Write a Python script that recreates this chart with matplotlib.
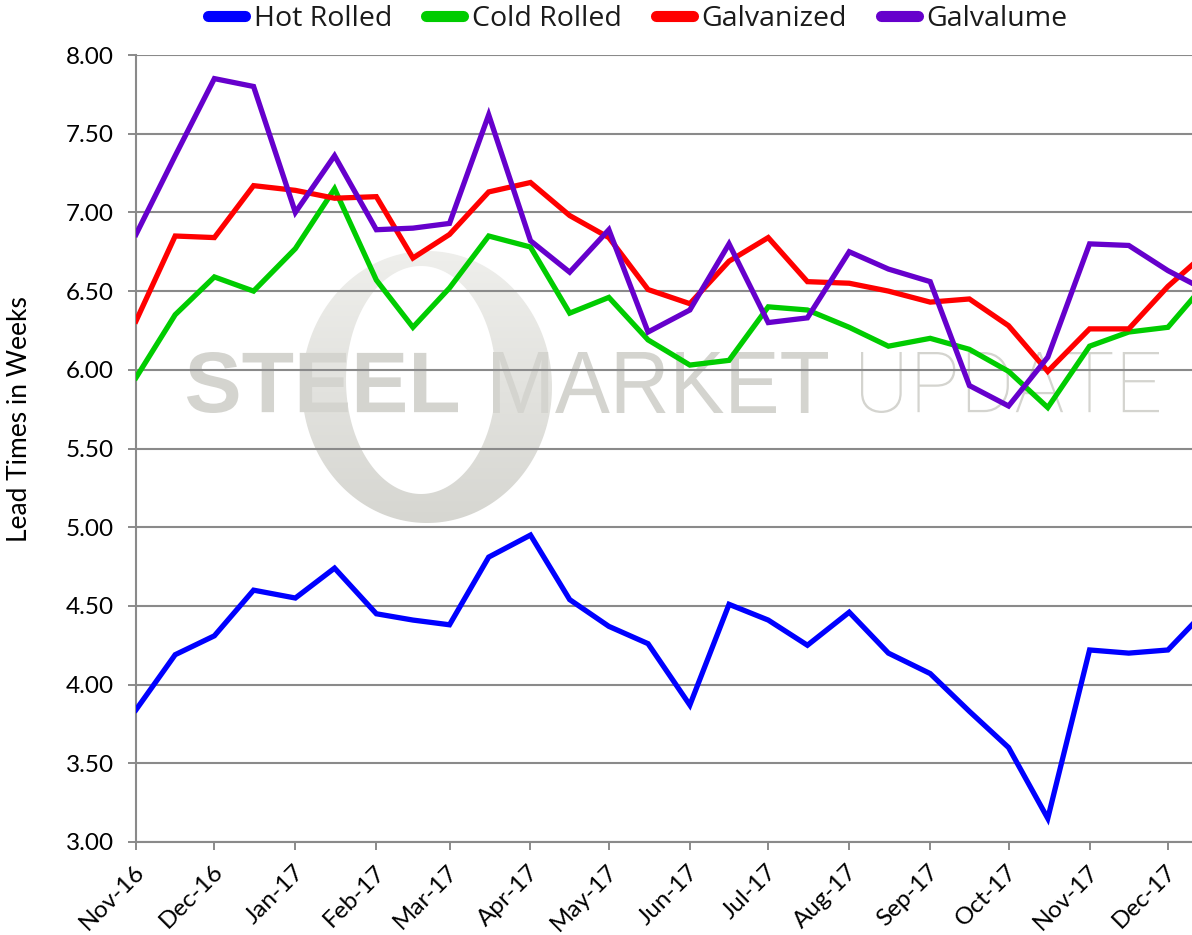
import datetime as dt
import numpy as np
import matplotlib
matplotlib.use("Agg")
import matplotlib.pyplot as plt
import matplotlib.dates as mdates
import matplotlib.transforms as mtransforms
from matplotlib.lines import Line2D
from matplotlib.patches import PathPatch
from matplotlib.path import Path
from matplotlib.textpath import TextPath
from matplotlib.font_manager import FontProperties
from matplotlib.colors import LinearSegmentedColormap

# Semi-monthly survey dates
dates = ["2016-11-01", "2016-11-16", "2016-12-01", "2016-12-16",
         "2017-01-01", "2017-01-16", "2017-02-01", "2017-02-15",
         "2017-03-01", "2017-03-16", "2017-04-01", "2017-04-16",
         "2017-05-01", "2017-05-16", "2017-06-01", "2017-06-16",
         "2017-07-01", "2017-07-16", "2017-08-01", "2017-08-16",
         "2017-09-01", "2017-09-16", "2017-10-01", "2017-10-16",
         "2017-11-01", "2017-11-16", "2017-12-01", "2017-12-16"]

hot_rolled = [3.84, 4.19, 4.31, 4.60, 4.55, 4.74, 4.45, 4.41, 4.38, 4.81,
              4.95, 4.54, 4.37, 4.26, 3.87, 4.51, 4.41, 4.25, 4.46, 4.20,
              4.07, 3.83, 3.60, 3.15, 4.22, 4.20, 4.22, 4.48]
cold_rolled = [5.95, 6.35, 6.59, 6.50, 6.77, 7.15, 6.57, 6.27, 6.52, 6.85,
               6.78, 6.36, 6.46, 6.19, 6.03, 6.06, 6.40, 6.38, 6.27, 6.15,
               6.20, 6.13, 5.99, 5.76, 6.15, 6.24, 6.27, 6.56]
galvanized = [6.31, 6.85, 6.84, 7.17, 7.14, 7.09, 7.10, 6.71, 6.86, 7.13,
              7.19, 6.98, 6.84, 6.51, 6.42, 6.69, 6.84, 6.56, 6.55, 6.50,
              6.43, 6.45, 6.28, 5.99, 6.26, 6.26, 6.53, 6.75]
galvalume = [6.86, 7.36, 7.85, 7.80, 7.00, 7.36, 6.89, 6.90, 6.93, 7.62,
             6.82, 6.62, 6.89, 6.24, 6.38, 6.80, 6.30, 6.33, 6.75, 6.64,
             6.56, 5.90, 5.77, 6.08, 6.80, 6.79, 6.63, 6.50]

series_names = ["Hot Rolled", "Cold Rolled", "Galvanized", "Galvalume"]
series_colors = ["#0000FF", "#00CC00", "#FF0000", "#6600CC"]

W, H = 1192, 935
fig = plt.figure(figsize=(W / 100, H / 100), dpi=100)

# Background layer in pixel units (origin top-left) for the watermark
bg = fig.add_axes([0, 0, 1, 1], zorder=0)
bg.set_xlim(0, W)
bg.set_ylim(H, 0)
bg.axis("off")

ax = fig.add_axes([136 / W, 1 - 842 / H, (W - 136) / W, (842 - 55) / H], zorder=1)
ax.patch.set_alpha(0)

x = [dt.datetime.strptime(d, "%Y-%m-%d") for d in dates]

# --- watermark: shaded ring logo ---
t = np.linspace(0, 2 * np.pi, 240)
outer = np.column_stack([427 + 125 * np.cos(t), 387 + 136 * np.sin(t)])
inner = np.column_stack([421 + 75 * np.cos(t), 380 + 114 * np.sin(t)])[::-1]
verts = np.vstack([outer, outer[:1], inner, inner[:1]])
codes = ([Path.MOVETO] + [Path.LINETO] * (len(outer) - 1) + [Path.CLOSEPOLY]
         + [Path.MOVETO] + [Path.LINETO] * (len(inner) - 1) + [Path.CLOSEPOLY])
ring = PathPatch(Path(verts, codes), facecolor="none", edgecolor="none",
                 transform=bg.transData)
bg.add_patch(ring)
shade = LinearSegmentedColormap.from_list("shade", ["#efefec", "#d6d6d1"])
grad = np.linspace(0, 1, 256).reshape(-1, 1)
img = bg.imshow(grad, cmap=shade, extent=(295, 560, 523, 250), aspect="auto",
                interpolation="bilinear", zorder=0.1)
img.set_clip_path(ring)
bg.set_xlim(0, W)
bg.set_ylim(H, 0)

wm_text = "#d4d4cf"


def word_patch(word, fp, x0, x1, ytop, ybot):
    tp = TextPath((0, 0), word, size=100, prop=fp)
    ext = tp.get_extents()
    tr = (mtransforms.Affine2D()
          .translate(-ext.x0, -ext.y0)
          .scale((x1 - x0) / ext.width, -(ybot - ytop) / ext.height)
          .translate(x0, ybot))
    return PathPatch(tr.transform_path(tp), transform=bg.transData, facecolor=wm_text,
                     edgecolor="none", zorder=0.2)


bg.add_patch(word_patch("STEEL", FontProperties(family="Liberation Sans", weight="bold"),
                        187, 458, 352, 413))
bg.add_patch(word_patch("MARKET", FontProperties(family="Liberation Sans", weight="normal"),
                        493, 828, 352, 413))
bg.add_patch(word_patch("UPDATE", FontProperties(family="Roboto", weight="light"),
                        861, 1159, 352, 413))

# --- series ---
for vals, name, col in zip([hot_rolled, cold_rolled, galvanized, galvalume],
                           series_names, series_colors):
    ax.plot(x, vals, color=col, lw=3.8, solid_joinstyle="miter", zorder=3, label=name)

# --- axes styling ---
grid_col = "#8a8a8a"
ax.set_ylim(3.0, 8.0)
ax.set_xlim(dt.datetime(2016, 11, 1), dt.datetime(2017, 12, 10, 5))
ax.set_yticks([3.0 + 0.5 * i for i in range(11)])
ax.yaxis.set_major_formatter(matplotlib.ticker.FormatStrFormatter("%.2f"))
ax.xaxis.set_major_locator(mdates.MonthLocator())
ax.xaxis.set_major_formatter(mdates.DateFormatter("%b-%y"))
ax.set_axisbelow(True)
ax.grid(axis="y", color=grid_col, lw=1.5)
ax.grid(axis="x", visible=False)
for s in ["top", "right"]:
    ax.spines[s].set_visible(False)
for s in ["left", "bottom"]:
    ax.spines[s].set_color(grid_col)
    ax.spines[s].set_linewidth(1.5)

tick_font = "Lato"
ax.tick_params(axis="both", direction="out", length=6, width=1.4, color=grid_col,
               labelsize=17.5, labelcolor="black")
ax.tick_params(axis="y", pad=10)
ax.tick_params(axis="x", pad=13)
for lab in ax.get_yticklabels():
    lab.set_fontfamily(tick_font)
offset = mtransforms.ScaledTranslation(5 / 100, 0, fig.dpi_scale_trans)
for lab in ax.get_xticklabels():
    lab.set_fontfamily(tick_font)
    lab.set_rotation(45)
    lab.set_ha("right")
    lab.set_va("center")
    lab.set_rotation_mode("anchor")
    lab.set_transform(lab.get_transform() + offset)

fig.text(20 / W, 1 - 419 / H, "Lead Times in Weeks", rotation=90, ha="center",
         va="center", fontsize=19, family=tick_font)

# --- legend ---
handles = [Line2D([], [], color=c, lw=8, solid_capstyle="round") for c in series_colors]
fig.legend(handles, series_names, loc="center", bbox_to_anchor=(638 / W, 1 - 19 / H),
           ncol=4, frameon=False, prop=FontProperties(family="Open Sans", size=20.5),
           handlelength=1.3, handletextpad=0.3, columnspacing=1.2, labelcolor="#1a1a1a")

fig.savefig("out.png", dpi=100)
